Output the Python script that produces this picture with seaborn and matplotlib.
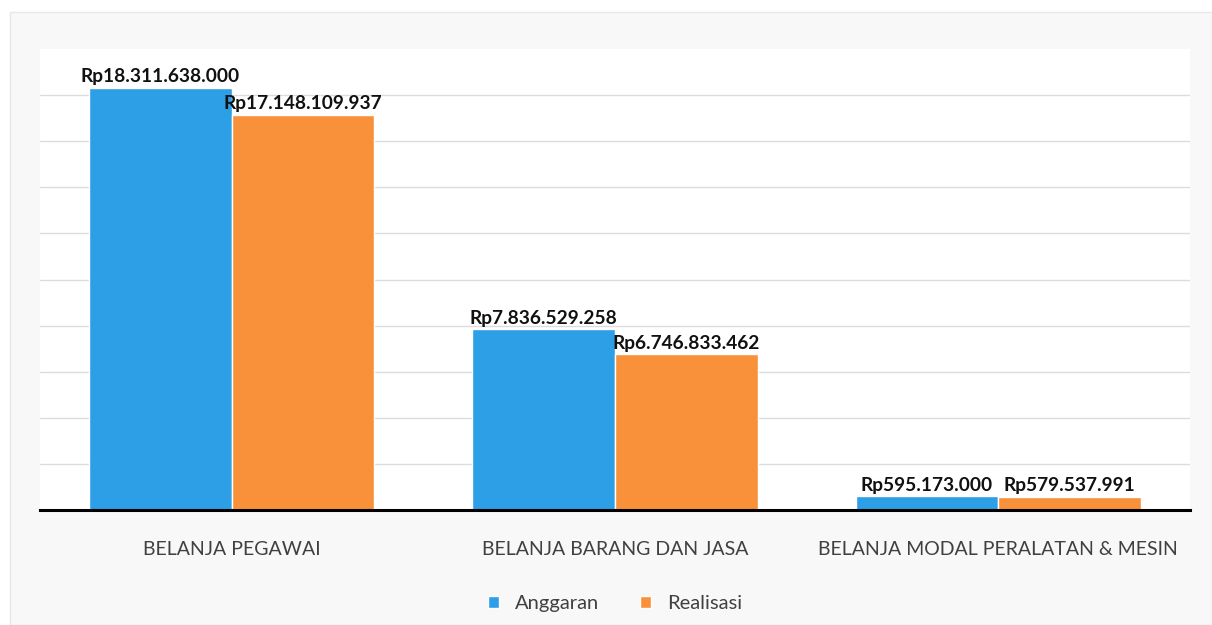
import matplotlib
matplotlib.use("Agg")
import matplotlib.pyplot as plt
import seaborn as sns
import pandas as pd
from matplotlib.patches import Rectangle

categories = ["BELANJA PEGAWAI", "BELANJA BARANG DAN JASA", "BELANJA MODAL PERALATAN & MESIN"]
series = ["Anggaran", "Realisasi"]
anggaran = [18311638000, 7836529258, 595173000]
realisasi = [17148109937, 6746833462, 579537991]
labels_anggaran = ["Rp18.311.638.000", "Rp7.836.529.258", "Rp595.173.000"]
labels_realisasi = ["Rp17.148.109.937", "Rp6.746.833.462", "Rp579.537.991"]
colors = ["#2c9fe6", "#f8913a"]

df = pd.DataFrame({
    "Kategori": categories * 2,
    "Seri": [series[0]] * 3 + [series[1]] * 3,
    "Nilai": anggaran + realisasi,
})

sns.set_theme(style="white")
plt.rcParams["font.family"] = ["Lato", "DejaVu Sans"]

fig = plt.figure(figsize=(12.12, 6.25), dpi=100)
fig.patch.set_facecolor("white")
fig.patches.append(Rectangle((10 / 1212, 0), 1202 / 1212, 613 / 625, transform=fig.transFigure,
                             facecolor="#f8f8f8", edgecolor="#e8e8e8", linewidth=1, zorder=-10))
ax = fig.add_axes([40 / 1212, 1 - 510 / 625, 1150 / 1212, (510 - 49) / 625])
ax.set_facecolor("white")

sns.barplot(data=df, x="Kategori", y="Nilai", hue="Seri", palette=colors,
            width=0.745, gap=0, ax=ax, saturation=1, legend=True)

ax.set_xlim(-0.5, 2.5)
ax.set_ylim(0, 20e9)
ax.set_yticks([i * 2e9 for i in range(1, 10)])
ax.yaxis.grid(True, color="#dcdcdc", linewidth=1)
ax.set_axisbelow(True)
ax.set_yticklabels([])
ax.tick_params(axis="y", length=0)
ax.tick_params(axis="x", length=0, pad=22, labelsize=14, labelcolor="#404040")
for s in ["top", "right", "left"]:
    ax.spines[s].set_visible(False)
ax.spines["bottom"].set_color("black")
ax.spines["bottom"].set_linewidth(2.2)
ax.set_xlabel("")
ax.set_ylabel("")

for container, labs in zip(ax.containers, [labels_anggaran, labels_realisasi]):
    ax.bar_label(container, labels=labs, padding=2, fontsize=13.8, fontweight="bold", color="#111111")

handles, lbls = ax.get_legend_handles_labels()
leg = ax.legend(handles, lbls, loc="upper center", bbox_to_anchor=(0.5, -0.145), ncol=2,
                frameon=False, fontsize=14.5, handlelength=0.55, handleheight=0.55,
                columnspacing=2.0, handletextpad=0.8)
for t in leg.get_texts():
    t.set_color("#404040")

fig.savefig("out.png", dpi=100, facecolor=fig.get_facecolor())
